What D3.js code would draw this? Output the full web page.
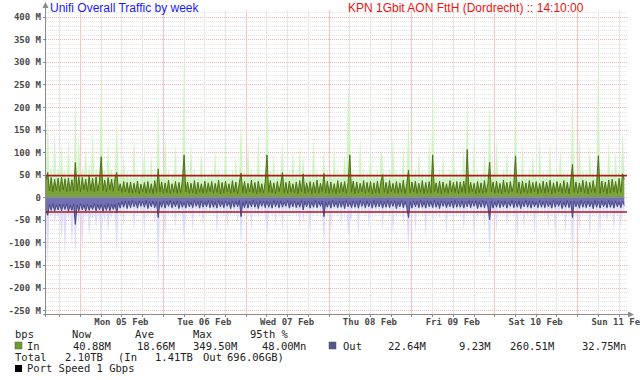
<!DOCTYPE html>
<meta charset="utf-8">
<html>
<head>
<style>
  body { margin: 0; background: #fff; }
  text { font-family: "DejaVu Sans Mono", monospace; }
  .ttl { font-family: "Liberation Sans", Arial, sans-serif; font-size: 12px; }
</style>
</head>
<body>
<svg width="640" height="380"></svg>
<script src="https://cdn.jsdelivr.net/npm/d3@7"></script>
<script>
// half-hour samples, Sun 04 Feb 14:10 -> Sun 11 Feb 14:10 (Mbps)
var inAvg = [
  38,55,14,44,12,40,15,42,13,45, 16,41,12,43,14,39,13,77,15,46, 12,44,16,40,13,47,15,42,12,45, 14,36,90,15,38,12,44,16,40,13, 42,55,14,30,11,35,12,33,
  10,34,9,31,11,36,8,29,12,33, 9,35,10,30,8,37,11,63,12,34, 9,32,10,38,8,30,11,35,9,33, 10,36,94,12,34,9,31,10,37,8, 33,11,30,9,36,10,32,12,
  35,9,31,11,38,8,33,10,36,12, 30,9,37,11,34,8,32,54,10,35, 9,31,12,38,10,33,8,36,11,30, 9,34,94,11,37,10,32,8,35,12, 31,55,10,33,9,36,11,30,
  10,34,8,37,12,52,9,32,11,35, 8,33,10,38,9,31,12,53,10,36, 9,34,11,30,8,37,10,33,12,35, 9,32,94,11,36,8,34,10,31,12, 37,9,33,11,35,8,32,10,
  36,9,34,50,11,33,8,37,12,31, 10,35,9,32,11,38,8,30,60,10, 34,12,36,9,31,11,37,8,33,10, 35,9,94,12,32,10,36,8,34,11, 30,9,37,12,33,10,35,8,
  34,11,36,9,106,10,33,12,31,8, 35,10,32,9,37,11,30,78,12,34, 9,36,10,31,8,38,11,33,9,35, 12,30,92,10,34,8,36,11,32,9, 37,10,33,12,35,8,31,10,
  36,9,34,11,38,8,32,10,35,12, 31,9,37,10,33,8,36,73,11,34, 9,32,12,38,10,35,8,33,11,37, 10,31,92,9,36,12,34,8,38,10, 40,12,35,9,42,11,52,40
];
var inMax = [
  60,186,45,70,40,150,48,65,42,120, 50,62,40,130,46,58,44,235,50,140, 42,68,48,110,40,75,46,160,41,66, 45,70,293,48,62,40,125,52,64,42, 70,182,44,58,38,95,40,60,
  36,60,32,140,38,62,30,55,40,115, 34,63,36,100,30,66,38,226,40,60, 33,150,36,64,30,55,38,120,34,60, 36,65,346,40,62,34,130,36,66,30, 58,40,105,34,64,36,56,40,
  62,34,110,38,66,30,58,36,140,40, 55,34,64,38,95,30,58,180,36,62, 34,125,40,66,36,60,30,150,38,55, 34,62,255,38,66,36,100,30,62,40, 58,130,36,60,34,64,38,110,
  36,62,30,120,40,95,34,58,38,62, 30,140,36,66,34,56,40,110,36,64, 34,60,38,125,30,66,36,58,40,100, 34,260,160,38,64,30,60,36,135,40, 66,34,60,38,115,30,58,36,
  64,34,105,90,38,60,30,66,40,140, 36,62,34,58,38,120,30,56,193,36, 62,40,66,34,110,38,64,30,60,36, 130,34,262,40,58,36,66,30,100,38, 56,34,64,40,125,36,62,30,
  62,38,115,34,240,36,60,40,130,30, 64,36,58,34,105,38,56,216,40,62, 34,135,36,58,30,66,38,110,34,62, 40,56,255,36,62,30,120,38,58,34, 66,36,100,40,62,30,140,36,
  64,34,60,38,125,30,58,36,62,40, 110,34,66,36,60,30,62,253,38,60, 34,140,40,66,36,62,30,115,38,64, 36,58,349.5,34,64,40,60,30,130,36, 66,40,105,34,70,38,150,60
];
var outAvg = [
  -30,-40,-16,-29,-14,-31,-17,-28,-15,-30, -16,-27,-14,-31,-18,-29,-15,-60,-17,-30, -14,-28,-16,-31,-15,-29,-17,-27,-14,-30, -16,-28,-15,-31,-17,-29,-14,-30,-16,-27, -15,-35,-12,-24,-9,-22,-8,-25,
  -9,-23,-7,-21,-10,-24,-8,-20,-9,-22, -7,-25,-10,-21,-8,-23,-9,-45,-10,-22, -8,-24,-9,-20,-7,-23,-10,-21,-8,-25, -9,-22,-11,-24,-8,-21,-10,-23,-7,-20, -9,-24,-8,-22,-10,-21,-7,-23,
  -8,-22,-10,-24,-7,-21,-9,-23,-8,-20, -10,-25,-8,-22,-9,-21,-7,-43,-10,-23, -8,-24,-9,-21,-7,-22,-10,-25,-8,-20, -9,-23,-8,-22,-10,-24,-7,-21,-9,-23, -8,-22,-10,-20,-7,-24,-9,-21,
  -8,-23,-10,-22,-7,-28,-9,-21,-8,-24, -10,-22,-7,-23,-9,-20,-8,-43,-10,-22, -9,-24,-7,-21,-10,-23,-8,-22,-9,-25, -7,-21,-10,-23,-8,-22,-9,-24,-7,-20, -10,-23,-8,-21,-9,-24,-7,-22,
  -9,-21,-8,-24,-10,-22,-7,-23,-9,-20, -8,-25,-10,-21,-7,-23,-9,-22,-45,-10, -24,-8,-21,-9,-23,-7,-22,-10,-24,-8, -21,-9,-23,-7,-22,-10,-25,-8,-20,-9, -23,-10,-21,-8,-24,-7,-22,-9,
  -22,-8,-24,-10,-21,-7,-23,-9,-20,-8, -25,-10,-22,-7,-23,-9,-21,-50,-8,-24, -10,-22,-7,-23,-9,-21,-8,-24,-10,-20, -7,-23,-9,-22,-8,-25,-10,-21,-7,-22, -9,-24,-8,-21,-10,-23,-7,-22,
  -9,-23,-8,-21,-10,-24,-7,-22,-9,-20, -8,-25,-10,-22,-7,-23,-9,-45,-8,-21, -10,-24,-7,-22,-9,-23,-8,-21,-10,-25, -7,-22,-9,-24,-8,-21,-10,-23,-7,-22, -9,-24,-8,-21,-10,-23,-9,-18
];
var outMax = [
  -40,-155,-30,-45,-28,-60,-32,-48,-30,-95, -34,-130,-28,-50,-32,-110,-30,-130,-34,-55, -28,-120,-32,-46,-30,-90,-34,-50,-28,-70, -32,-48,-125,-34,-52,-30,-80,-36,-46,-30, -50,-125,-26,-45,-20,-65,-18,-40,
  -20,-42,-16,-75,-22,-44,-18,-40,-20,-85, -16,-46,-22,-40,-18,-60,-20,-195,-22,-44, -18,-90,-20,-42,-16,-45,-22,-70,-18,-46, -20,-44,-100,-46,-18,-42,-22,-80,-16,-40, -20,-46,-18,-65,-22,-42,-16,-44,
  -18,-44,-22,-85,-16,-42,-20,-46,-18,-70, -22,-48,-18,-44,-20,-60,-16,-110,-22,-45, -18,-46,-20,-75,-16,-44,-22,-48,-18,-40, -20,-45,-90,-44,-22,-46,-16,-65,-20,-45, -18,-80,-22,-42,-16,-46,-20,-44,
  -18,-46,-22,-70,-16,-60,-20,-44,-18,-85, -22,-44,-16,-46,-20,-42,-18,-120,-22,-45, -20,-80,-16,-43,-22,-46,-18,-65,-20,-48, -16,-88,-60,-46,-18,-44,-20,-90,-16,-42, -22,-46,-18,-70,-20,-48,-16,-44,
  -20,-43,-18,-75,-22,-44,-16,-46,-20,-85, -18,-48,-22,-42,-16,-65,-20,-44,-125,-22, -46,-18,-80,-20,-45,-16,-44,-22,-90,-18, -44,-20,-70,-16,-46,-22,-48,-18,-42,-20, -85,-22,-45,-18,-60,-16,-46,-20,
  -44,-18,-75,-22,-46,-16,-42,-20,-95,-18, -48,-22,-44,-16,-70,-20,-46,-140,-18,-44, -22,-80,-16,-46,-20,-42,-18,-65,-22,-45, -16,-48,-20,-100,-18,-44,-22,-75,-16,-46, -20,-44,-18,-85,-22,-46,-16,-42,
  -20,-46,-18,-70,-22,-44,-16,-90,-20,-46, -18,-45,-22,-80,-16,-46,-20,-180,-18,-48, -22,-75,-18,-44,-20,-46,-16,-95,-22,-45, -18,-44,-20,-85,-16,-46,-22,-60,-16,-44, -20,-80,-18,-46,-22,-70,-20,-44
];
var pct95 = { "in": 48.00, "out": -32.75 };
var yTicks = [400, 350, 300, 250, 200, 150, 100, 50, 0, -50, -100, -150, -200, -250];

var legendHead = ["bps", "Now", "Ave", "Max", "95th %"];
var legendIn  = ["In",  "40.88M", "18.66M", "349.50M", "48.00Mn"];
var legendOut = ["Out", "22.64M", "9.23M", "260.51M", "32.75Mn"];
var legendTotal = ["Total", "2.10TB", "(In", "1.41TB", "Out", "696.06GB)"];

var svg = d3.select("svg");

var t0 = new Date(2024, 1, 4, 14, 10),
    t1 = new Date(2024, 1, 11, 14, 10);
var x = d3.scaleTime().domain([t0, t1]).range([46, 626]);
var y = d3.scaleLinear().domain([-250, 400]).range([310.1, 16.8]);
var plotTop = 10, plotBottom = 314, plotRight = 628;

function tAt(i) { return d3.timeMinute.offset(t0, 30 * i); }

// grid
var grid = svg.append("g");
d3.range(-260, 420, 10).forEach(function(v) {
  var yy = Math.round(y(v)) + 0.5;
  if (yy < plotTop || yy > plotBottom - 1) return;
  grid.append("line").attr("x1", 46).attr("x2", plotRight).attr("y1", yy).attr("y2", yy)
    .attr("stroke", v % 50 === 0 ? "#f9b0b0" : "#e4e4e4").attr("stroke-dasharray", "1,1");
});
x.ticks(d3.timeHour.every(6)).forEach(function(t) {
  var xx = Math.round(x(t)) + 0.5;
  var major = t.getHours() === 0;
  grid.append("line").attr("x1", xx).attr("x2", xx).attr("y1", plotTop).attr("y2", plotBottom)
    .attr("stroke", major ? "#fbc4c4" : "#e6e6e6");
});

// maxima
var idx = d3.range(inAvg.length);
var areaOf = function(arr) {
  return d3.area().x(function(i) { return x(tAt(i)); }).y0(y(0)).y1(function(i) { return y(arr[i]); });
};
var lineOf = function(arr) {
  return d3.line().x(function(i) { return x(tAt(i)); }).y(function(i) { return y(arr[i]); });
};
svg.append("path").datum(idx).attr("d", areaOf(inMax)).attr("fill", "#cbf3bd").attr("fill-opacity", 0.9);
svg.append("path").datum(idx).attr("d", areaOf(outMax)).attr("fill", "#d8d8fb").attr("fill-opacity", 0.9);

// averages
svg.append("path").datum(idx).attr("d", areaOf(inAvg)).attr("fill", "#7ba337");
svg.append("path").datum(idx).attr("d", lineOf(inAvg)).attr("fill", "none").attr("stroke", "#4f7019").attr("stroke-width", 1);
svg.append("path").datum(idx).attr("d", areaOf(outAvg)).attr("fill", "#7272b2");
svg.append("path").datum(idx).attr("d", lineOf(outAvg)).attr("fill", "none").attr("stroke", "#464682").attr("stroke-width", 1);

// 95th percentile
[pct95["in"], pct95["out"]].forEach(function(v) {
  svg.append("line").attr("x1", 46).attr("x2", 627).attr("y1", y(v)).attr("y2", y(v))
    .attr("stroke", "#aa1c1c").attr("stroke-width", 1.6);
});

// axes
var ax = svg.append("g").attr("stroke", "#8c8c8c").attr("fill", "none");
ax.append("line").attr("x1", 45.5).attr("x2", 45.5).attr("y1", 6).attr("y2", 317);
ax.append("line").attr("x1", 43).attr("x2", 630).attr("y1", 314.5).attr("y2", 314.5);
svg.append("path").attr("d", "M42.5,8 L45.5,2 L48.5,8 Z").attr("fill", "#8c8c8c");
svg.append("path").attr("d", "M628,311.5 L634,314.5 L628,317.5 Z").attr("fill", "#8c8c8c");
x.ticks(d3.timeHour.every(6)).forEach(function(t) {
  var xx = Math.round(x(t)) + 0.5;
  ax.append("line").attr("x1", xx).attr("x2", xx).attr("y1", 314).attr("y2", 317);
});
yTicks.forEach(function(v) {
  ax.append("line").attr("x1", 43).attr("x2", 46).attr("y1", Math.round(y(v)) + 0.5).attr("y2", Math.round(y(v)) + 0.5);
  svg.append("text").attr("x", 41).attr("y", y(v) + 3.5).attr("text-anchor", "end")
    .attr("font-size", 9).attr("font-weight", "bold").attr("fill", "#4a4a4a")
    .text(v === 0 ? "0" : v + " M");
});
d3.timeDay.range(d3.timeDay.ceil(t0), t1).forEach(function(d) {
  svg.append("text").attr("x", x(d3.timeHour.offset(d, 12))).attr("y", 325).attr("text-anchor", "middle")
    .attr("font-size", 9).attr("font-weight", "bold").attr("fill", "#4a4a4a")
    .text(d3.timeFormat("%a %d %b")(d));
});

// titles
svg.append("text").attr("class", "ttl").attr("x", 50).attr("y", 12).attr("fill", "#1a1aff").text("Unifi Overall Traffic by week");
svg.append("text").attr("class", "ttl").attr("x", 348).attr("y", 12).attr("fill", "#ee1111").text("KPN 1Gbit AON FttH (Dordrecht) :: 14:10:00");

// legend
var lg = svg.append("g").attr("font-size", 10.5).attr("fill", "#222");
var colX = [15, 72, 135, 193, 250];
legendHead.forEach(function(s, k) { lg.append("text").attr("x", colX[k]).attr("y", 338).text(s); });
var inX = [27, 73, 137, 193, 262];
legendIn.forEach(function(s, k) { lg.append("text").attr("x", inX[k]).attr("y", 350).text(s); });
var outX = [343, 388, 459, 510, 582];
legendOut.forEach(function(s, k) { lg.append("text").attr("x", outX[k]).attr("y", 350).text(s); });
var totX = [15, 65, 118, 155, 203, 227];
legendTotal.forEach(function(s, k) { lg.append("text").attr("x", totX[k]).attr("y", 361).text(s); });
lg.append("rect").attr("x", 15).attr("y", 342).attr("width", 7).attr("height", 7).attr("fill", "#6f9a2c").attr("stroke", "#555").attr("stroke-width", 0.5);
lg.append("rect").attr("x", 329).attr("y", 342).attr("width", 7).attr("height", 7).attr("fill", "#55558a").attr("stroke", "#555").attr("stroke-width", 0.5);
lg.append("rect").attr("x", 15).attr("y", 365).attr("width", 7).attr("height", 7).attr("fill", "#000");
lg.append("text").attr("x", 27).attr("y", 372).text("Port Speed 1 Gbps");
</script>
</body>
</html>
